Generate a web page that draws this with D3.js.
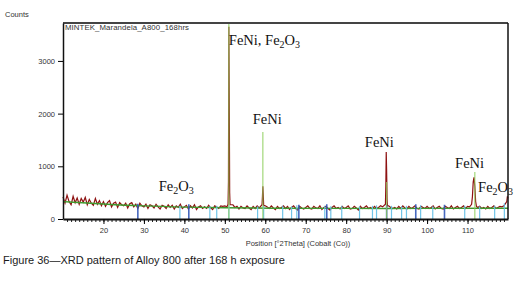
<!DOCTYPE html>
<html>
<head>
<meta charset="utf-8">
<script src="https://cdn.jsdelivr.net/npm/d3@7"></script>
<style>
  body { margin: 0; background: #fff; }
  svg { display: block; }
</style>
</head>
<body>
<svg id="xrd" width="527" height="299"></svg>
<script>
// measured counts off the peaks, one value every 0.5 degree from 10 to 119.5 degrees 2Theta
var startDeg = 10, stepDeg = 0.5;
var counts = [
  420, 300, 450, 330, 270, 430, 310, 400, 280, 390,
  320, 410, 270, 370, 300, 260, 390, 280, 350, 250,
  330, 240, 310, 350, 230, 300, 320, 220, 310, 270,
  250, 300, 210, 290, 310, 230, 280, 200, 300, 250,
  230, 280, 200, 270, 250, 210, 280, 230, 190, 260,
  240, 200, 270, 220, 260, 190, 250, 220, 280, 200,
  230, 260, 190, 250, 210, 270, 180, 230, 250, 200,
  230, 200, 260, 210, 180, 250, 230, 200, 250, 240,
  250, 230, 240, 230, 270, 220, 240, 190, 240, 210,
  200, 250, 210, 180, 240, 200, 250, 210, 240, 230,
  250, 230, 200, 250, 210, 180, 240, 200, 220, 250,
  200, 240, 180, 220, 250, 200, 170, 240, 210, 190,
  220, 250, 200, 190, 240, 210, 200, 250, 180, 220,
  240, 200, 170, 220, 250, 200, 220, 190, 240, 200,
  220, 250, 190, 200, 240, 210, 170, 240, 200, 220,
  250, 200, 220, 190, 240, 200, 220, 250, 230, 240,
  230, 250, 220, 200, 220, 190, 240, 200, 250, 210,
  190, 240, 200, 220, 250, 200, 190, 240, 220, 200,
  240, 200, 220, 250, 190, 220, 240, 200, 190, 240,
  220, 200, 250, 190, 220, 240, 200, 220, 250, 200,
  240, 230, 250, 240, 230, 220, 240, 200, 220, 190,
  240, 200, 220, 250, 200, 220, 240, 230, 250, 280
];

// finely sampled diffraction peaks
var peakDeg = [50.8, 50.9, 51.0, 51.1, 51.2, 51.3,
               59.2, 59.3, 59.4, 59.5, 59.6,
               89.7, 89.8, 89.9, 90.0, 90.1, 90.2,
               111.0, 111.2, 111.4, 111.6, 111.8, 112.0, 112.2,
               119.7, 119.85, 120.0];
var peakCounts = [280, 700, 3650, 2200, 500, 270,
                  270, 420, 620, 450, 260,
                  280, 620, 1270, 900, 380, 250,
                  280, 420, 700, 790, 620, 330, 240,
                  330, 430, 390];

// fitted background
var bgDeg = [10, 20, 30, 40, 50, 60, 80, 100, 120];
var bgCounts = [330, 285, 245, 225, 212, 205, 200, 200, 205];

// reference patterns (stick lines)
var feniDeg = [51.0, 59.4, 90.0, 111.8];
var feniCounts = [3720, 1650, 700, 890];
var lightDeg = [38.9, 46.3, 48.0, 51.0, 58.1, 59.6, 64.3, 66.5, 67.8, 74.7, 76.2, 78.9, 83.3, 86.5, 87.5,
                91.2, 93.7, 94.9, 98.4, 101.4, 109.3, 113.0, 116.7, 119.1];
var lightCounts = [250, 240, 250, 260, 240, 250, 250, 240, 260, 250, 240, 250, 240, 250, 260,
                   250, 240, 250, 260, 240, 250, 240, 250, 300];
var darkDeg = [28.5, 41.1, 68.3, 75.2, 90.0, 97.2, 104.3];
var darkCounts = [290, 280, 270, 280, 270, 280, 270];

var peakLabels = [
  { text: "FeNi, Fe|2|O|3", deg: 51.0, y: 45, anchor: "start" },
  { text: "FeNi", deg: 60.5, y: 124, anchor: "middle" },
  { text: "FeNi", deg: 88.2, y: 147, anchor: "middle" },
  { text: "FeNi", deg: 110.5, y: 168, anchor: "middle" },
  { text: "Fe|2|O|3", deg: 38.0, y: 191, anchor: "middle" },
  { text: "Fe|2|O|3", deg: 112.6, y: 192, anchor: "start" }
];

var svg = d3.select("#xrd");
var padL = 63, padR = 508, padT = 23, padB = 219;

var x = d3.scaleLinear().domain([10, 120]).range([padL, padR]);
var y = d3.scaleLinear().domain([0, 3720]).range([padB, padT]);

// merge coarse scan with peak samples, drop coarse points that fall inside a peak window
var data = counts.map(function (c, i) { return [startDeg + i * stepDeg, c]; })
    .filter(function (d) {
      return !peakDeg.some(function (p) { return Math.abs(p - d[0]) < 0.25; });
    })
    .concat(peakDeg.map(function (p, i) { return [p, peakCounts[i]]; }))
    .sort(function (a, b) { return a[0] - b[0]; });

var plot = svg.append("g");

// measured pattern
plot.append("path")
    .attr("d", d3.line().x(function (d) { return x(d[0]); }).y(function (d) { return y(d[1]); })(data))
    .attr("fill", "none")
    .attr("stroke", "#8e1212")
    .attr("stroke-width", 1.2);

// background
plot.append("path")
    .attr("d", d3.line().curve(d3.curveBasis)
        .x(function (d, i) { return x(bgDeg[i]); })
        .y(function (d) { return y(d); })(bgCounts))
    .attr("fill", "none")
    .attr("stroke", "#3f9a2e")
    .attr("stroke-width", 1.4);

function sticks(degs, vals, color, w, op) {
  plot.selectAll(null).data(degs).enter().append("line")
      .attr("x1", function (d) { return x(d); })
      .attr("x2", function (d) { return x(d); })
      .attr("y1", y(0))
      .attr("y2", function (d, i) { return y(vals[i]); })
      .attr("stroke", color)
      .attr("stroke-width", w)
      .attr("opacity", op);
}
sticks(lightDeg, lightCounts, "#62bfe6", 1.2, 0.9);
sticks(darkDeg, darkCounts, "#3358b8", 1.6, 0.9);
sticks(feniDeg, feniCounts, "#8ccf5a", 1.2, 0.8);

// frame
svg.append("line").attr("x1", padL).attr("x2", padR).attr("y1", padT).attr("y2", padT)
    .attr("stroke", "#444").attr("stroke-width", 2);
svg.append("line").attr("x1", padR).attr("x2", padR).attr("y1", padT).attr("y2", padB)
    .attr("stroke", "#111").attr("stroke-width", 1.5);

// y axis
var yAxis = svg.append("g")
    .attr("transform", "translate(" + padL + ",0)")
    .call(d3.axisLeft(y).tickValues([0, 1000, 2000, 3000]).tickFormat(d3.format("d"))
        .tickSize(5).tickPadding(3).tickSizeOuter(0));
yAxis.select(".domain").attr("stroke", "#111").attr("stroke-width", 1.5);
yAxis.selectAll("text").attr("font-family", "Liberation Sans, Arial, sans-serif")
    .attr("font-size", 7.5).attr("fill", "#333");

// x axis, minor then major ticks
svg.append("g")
    .attr("transform", "translate(0," + padB + ")")
    .call(d3.axisBottom(x).tickValues(d3.range(11, 120, 1)).tickSize(3).tickFormat("").tickSizeOuter(0))
    .call(function (g) { g.select(".domain").remove(); })
    .selectAll("line").attr("stroke", "#222");
var xAxis = svg.append("g")
    .attr("transform", "translate(0," + padB + ")")
    .call(d3.axisBottom(x).tickValues(d3.range(20, 120, 10)).tickSize(5).tickPadding(4).tickSizeOuter(0));
xAxis.select(".domain").attr("stroke", "#111").attr("stroke-width", 2);
xAxis.selectAll("text").attr("font-family", "Liberation Sans, Arial, sans-serif")
    .attr("font-size", 7.5).attr("fill", "#333");

// texts
svg.append("text").attr("x", 5).attr("y", 17).text("Counts")
    .attr("font-family", "Liberation Sans, Arial, sans-serif").attr("font-size", 7.5).attr("fill", "#333");
svg.append("text").attr("x", 65).attr("y", 30).text("MINTEK_Marandela_A800_168hrs")
    .attr("font-family", "Liberation Sans, Arial, sans-serif").attr("font-size", 7.8).attr("fill", "#333")
    .attr("textLength", 124);
svg.append("text").attr("x", 298).attr("y", 246).attr("text-anchor", "middle")
    .text("Position [°2Theta] (Cobalt (Co))")
    .attr("font-family", "Liberation Sans, Arial, sans-serif").attr("font-size", 7.5).attr("fill", "#333");
svg.append("text").attr("x", 3).attr("y", 264)
    .text("Figure 36\u2014XRD pattern of Alloy 800 after 168 h exposure")
    .attr("font-family", "Liberation Sans, Arial, sans-serif").attr("font-size", 11).attr("fill", "#1a1a1a");

// peak labels with subscripts
peakLabels.forEach(function (p) {
  var t = svg.append("text")
      .attr("x", x(p.deg)).attr("y", p.y)
      .attr("text-anchor", p.anchor)
      .attr("font-family", "Liberation Serif, Times New Roman, serif")
      .attr("font-size", 14.5).attr("fill", "#111");
  p.text.split("|").forEach(function (part, i) {
    var s = t.append("tspan").text(part);
    if (i % 2 === 1) s.attr("font-size", 10).attr("dy", 3);
    else if (i > 0) s.attr("dy", -3);
  });
});
</script>
</body>
</html>
